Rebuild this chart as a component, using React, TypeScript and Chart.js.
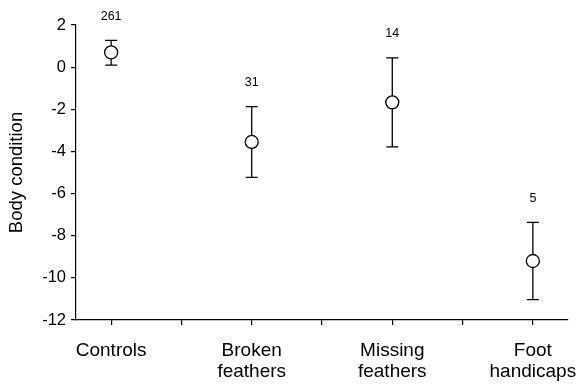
import React, { useEffect, useRef } from "react";
import { Chart, registerables } from "chart.js";

Chart.register(...registerables);

const categories: string[][] = [["Controls"], ["Broken", "feathers"], ["Missing", "feathers"], ["Foot", "handicaps"]];
const categoryX: number[] = [1, 3, 5, 7];
const means: number[] = [0.7, -3.55, -1.67, -9.2];
const upper: number[] = [1.27, -1.87, 0.44, -7.37];
const lower: number[] = [0.1, -5.23, -3.78, -11.03];
const sampleSizes: string[] = ["261", "31", "14", "5"];
const yTicks: number[] = [2, 0, -2, -4, -6, -8, -10, -12];

const FONT = "'Liberation Sans', Arial, Helvetica, sans-serif";

const errorBarPlugin = {
  id: "errorBars",
  beforeDatasetsDraw(chart: any) {
    const { ctx, scales } = chart;
    const xs = scales.x;
    const ys = scales.y;
    ctx.save();
    ctx.strokeStyle = "#000";
    ctx.lineWidth = 1.3;
    categoryX.forEach((cx, i) => {
      const px = xs.getPixelForValue(cx);
      const pTop = ys.getPixelForValue(upper[i]);
      const pBot = ys.getPixelForValue(lower[i]);
      ctx.beginPath();
      ctx.moveTo(px, pTop);
      ctx.lineTo(px, pBot);
      ctx.moveTo(px - 6, pTop);
      ctx.lineTo(px + 6, pTop);
      ctx.moveTo(px - 6, pBot);
      ctx.lineTo(px + 6, pBot);
      ctx.stroke();
    });
    ctx.restore();
  },
  afterDatasetsDraw(chart: any) {
    const { ctx, scales } = chart;
    const xs = scales.x;
    const ys = scales.y;
    ctx.save();
    ctx.fillStyle = "#000";
    ctx.font = `12.5px ${FONT}`;
    ctx.textAlign = "center";
    ctx.textBaseline = "middle";
    categoryX.forEach((cx, i) => {
      const px = xs.getPixelForValue(cx);
      const pTop = ys.getPixelForValue(upper[i]);
      ctx.fillText(sampleSizes[i], px, pTop - 24);
    });
    ctx.restore();
  },
};

export default function App() {
  const canvasRef = useRef<HTMLCanvasElement | null>(null);

  useEffect(() => {
    if (!canvasRef.current) return;
    const chart = new Chart(canvasRef.current, {
      type: "scatter",
      data: {
        datasets: [
          {
            data: categoryX.map((x, i) => ({ x, y: means[i] })),
            pointStyle: "circle",
            pointRadius: 6.5,
            pointHoverRadius: 6.5,
            pointBackgroundColor: "#fff",
            pointBorderColor: "#000",
            pointBorderWidth: 1.3,
            showLine: false,
          },
        ],
      },
      options: {
        animation: false,
        responsive: true,
        maintainAspectRatio: false,
        layout: { padding: { top: 25, right: 9, left: 0, bottom: 0 } },
        plugins: {
          legend: { display: false },
          tooltip: { enabled: false },
        },
        scales: {
          x: {
            type: "linear",
            min: 0.5,
            max: 7.5,
            afterFit: (scale: any) => {
              scale.height = 66;
              scale.paddingLeft = 0;
              scale.paddingRight = 0;
            },
            afterBuildTicks: (scale: any) => {
              scale.ticks = [1, 2, 3, 4, 5, 6, 7].map((v) => ({ value: v }));
            },
            ticks: {
              autoSkip: false,
              maxRotation: 0,
              minRotation: 0,
              color: "#000",
              padding: 15,
              font: { family: FONT, size: 19, lineHeight: 1.12 },
              callback: (value: any) => {
                const idx = categoryX.indexOf(Number(value));
                return idx >= 0 ? categories[idx] : "";
              },
            },
            grid: {
              display: true,
              drawOnChartArea: false,
              drawTicks: true,
              tickLength: 5,
              color: "#000",
              lineWidth: 1.2,
            },
            border: { display: true, color: "#000", width: 1.2 },
          },
          y: {
            type: "linear",
            min: -12,
            max: 2,
            afterFit: (scale: any) => {
              scale.width = 76;
              scale.paddingTop = 0;
              scale.paddingBottom = 0;
            },
            afterBuildTicks: (scale: any) => {
              scale.ticks = yTicks.map((v) => ({ value: v }));
            },
            ticks: {
              color: "#000",
              padding: 5,
              font: { family: FONT, size: 16.5 },
            },
            title: {
              display: true,
              text: "Body condition",
              color: "#000",
              font: { family: FONT, size: 18.5 },
              padding: { top: 6, bottom: 0 },
            },
            grid: {
              display: true,
              drawOnChartArea: false,
              drawTicks: true,
              tickLength: 5,
              color: "#000",
              lineWidth: 1.2,
            },
            border: { display: true, color: "#000", width: 1.2 },
          },
        },
      },
      plugins: [errorBarPlugin],
    });
    return () => chart.destroy();
  }, []);

  return (
    <div style={{ position: "fixed", left: 0, top: 0, width: 577, height: 386, background: "#fff" }}>
      <canvas ref={canvasRef} />
    </div>
  );
}
